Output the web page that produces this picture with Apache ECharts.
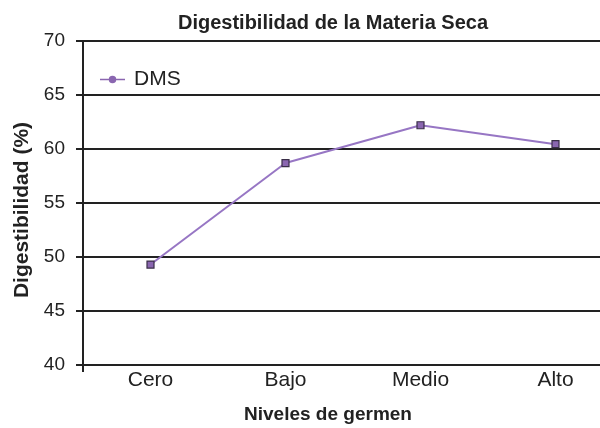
<!DOCTYPE html>
<html><head><meta charset="utf-8">
<script src="https://cdn.jsdelivr.net/npm/echarts@6/dist/echarts.min.js"></script>
<style>html,body{margin:0;padding:0;background:#fff}#c{width:600px;height:428px}</style>
</head><body><div id="c"></div>
<script>
const categories = ['Cero', 'Bajo', 'Medio', 'Alto'];
const dmsValues = [49.3, 58.7, 62.2, 60.45];
const yTicks = [40, 45, 50, 55, 60, 65, 70];

const chart = echarts.init(document.getElementById('c'));
const font = 'Liberation Sans, Arial, sans-serif';
const legendIcon = 'path://M0,3.25 L25,3.25 L25,4.75 L0,4.75 Z M16.25,4 A3.75,3.75 0 1,1 8.75,4 A3.75,3.75 0 1,1 16.25,4 Z';
chart.setOption({
  animation: false,
  backgroundColor: '#fff',
  title: {
    text: 'Digestibilidad de la Materia Seca',
    left: 328, top: 8, textAlign: 'center',
    textStyle: {fontFamily: font, fontSize: 20, fontWeight: 'bold', color: '#222'}
  },
  legend: {
    left: 95, top: 64,
    itemWidth: 25, itemHeight: 8,
    textStyle: {fontFamily: font, fontSize: 21, color: '#222', padding: [0, 0, 0, 4]},
    data: [{name: 'DMS', icon: legendIcon, itemStyle: {color: '#8a66b0', borderWidth: 0}}]
  },
  grid: {left: 83, top: 41, width: 540, height: 324, outerBoundsMode: 'none', containLabel: false},
  xAxis: {
    type: 'category',
    data: categories,
    boundaryGap: true,
    name: 'Niveles de germen',
    nameLocation: 'middle',
    nameGap: 40,
    nameTextStyle: {fontFamily: font, fontSize: 19, fontWeight: 'bold', color: '#222', padding: [0, 50, 0, 0]},
    axisLine: {show: true, lineStyle: {color: '#222', width: 2}},
    axisTick: {show: true, interval: function (i) { return i === 0; }, length: 7, lineStyle: {color: '#222', width: 2}},
    axisLabel: {fontFamily: font, fontSize: 21, color: '#222', margin: 5}
  },
  yAxis: {
    type: 'value',
    min: 40, max: 70, interval: 5,
    name: 'Digestibilidad (%)',
    nameLocation: 'middle',
    nameGap: 49,
    nameTextStyle: {fontFamily: font, fontSize: 21, fontWeight: 'bold', color: '#222', padding: [0, 14, 0, 0]},
    axisLine: {show: true, lineStyle: {color: '#222', width: 2}},
    axisTick: {show: true, length: 7, lineStyle: {color: '#222', width: 2}},
    axisLabel: {fontFamily: font, fontSize: 19, color: '#222', margin: 18,
      formatter: function (v) { return yTicks.indexOf(v) >= 0 ? String(v) : ''; }},
    splitLine: {show: true, lineStyle: {color: '#222', width: 2}}
  },
  series: [{
    name: 'DMS',
    type: 'line',
    data: dmsValues,
    symbol: 'rect',
    symbolSize: 7,
    lineStyle: {color: '#9776c4', width: 2},
    itemStyle: {color: '#8a66b0', borderColor: '#3a2e48', borderWidth: 1.2},
    z: 5
  }]
});
</script></body></html>
